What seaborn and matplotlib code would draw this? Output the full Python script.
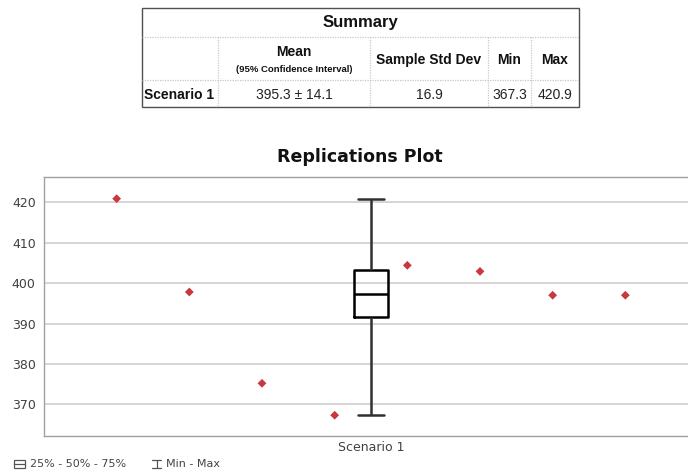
import matplotlib
matplotlib.use("Agg")
import matplotlib.pyplot as plt
from matplotlib.lines import Line2D
from matplotlib.patches import Rectangle
import seaborn as sns
import pandas as pd

# Replication results for one scenario
replications = [1, 2, 3, 4, 5, 6, 7, 8]
values = [420.9, 397.8, 375.2, 367.3, 404.4, 402.9, 397.0, 397.0]
scenario = "Scenario 1"
y_ticks = [370, 380, 390, 400, 410, 420]

# Summary table contents
summary_title = "Summary"
summary_headers = ["Mean", "Sample Std Dev", "Min", "Max"]
mean_note = "(95% Confidence Interval)"
summary_row = ["395.3 ± 14.1", "16.9", "367.3", "420.9"]

W, H = 688, 473
sns.set_theme(style="white")
plt.rcParams["font.family"] = ["DejaVu Sans"]

fig = plt.figure(figsize=(W / 100, H / 100), dpi=100)


def fx(x):
    return x / W


def fy(y):
    return 1 - y / H


# ---- summary table ----
tbl_font = ["Liberation Sans", "DejaVu Sans"]
left, right = 142, 579
top, r1, r2, bottom = 8, 37, 80, 107
cols = [142, 218, 370, 488, 531, 579]

dot = dict(color="#c8c8c8", lw=0.9, ls=(0, (1, 1)), transform=fig.transFigure)
for y in (r1, r2):
    fig.add_artist(Line2D([fx(left), fx(right)], [fy(y), fy(y)], **dot))
for x in cols[1:-1]:
    fig.add_artist(Line2D([fx(x), fx(x)], [fy(r1), fy(bottom)], **dot))
fig.add_artist(Rectangle((fx(left), fy(bottom)), fx(right - left), (bottom - top) / H,
                         fill=False, edgecolor="#505050", lw=1.0,
                         transform=fig.transFigure))

fig.text(fx((left + right) / 2), fy(23), summary_title, ha="center", va="center",
         fontsize=12, fontweight="bold", family=tbl_font, color="#111111")
centers = [(cols[i] + cols[i + 1]) / 2 for i in range(1, 5)]
fig.text(fx(centers[0]), fy(52), summary_headers[0], ha="center", va="center",
         fontsize=10, fontweight="bold", family=tbl_font, color="#111111")
fig.text(fx(centers[0]), fy(69.5), mean_note, ha="center", va="center",
         fontsize=6.8, fontweight="bold", family=tbl_font, color="#111111")
for c, h in zip(centers[1:], summary_headers[1:]):
    fig.text(fx(c), fy(60), h, ha="center", va="center",
             fontsize=10, fontweight="bold", family=tbl_font, color="#111111")
fig.text(fx(144), fy(95), scenario, ha="left", va="center",
         fontsize=10, fontweight="bold", family=tbl_font, color="#111111")
for c, v in zip(centers, summary_row):
    fig.text(fx(c), fy(95), v, ha="center", va="center",
             fontsize=10, family=tbl_font, color="#222222")

# ---- replications plot ----
ax_left, ax_right, ax_top, ax_bottom = 44, 698, 176.7, 435.7
ax = fig.add_axes([fx(ax_left), fy(ax_bottom), (ax_right - ax_left) / W,
                   (ax_bottom - ax_top) / H])

df = pd.DataFrame({"rep": replications, "value": values})
box_pos = (replications[0] - 1 + replications[-1] + 1) / 2
df["pos"] = box_pos

sns.boxplot(data=df, x="pos", y="value", native_scale=True, width=0.47,
            whis=(0, 100), fill=False, color="black", linewidth=1.8,
            capwidths=0.36, whiskerprops={"color": "#303030"},
            capprops={"color": "#303030"}, ax=ax)
sns.scatterplot(data=df, x="rep", y="value", marker="D", s=20,
                color="#c8393d", edgecolor="none", ax=ax, zorder=5)

ax.set_xlim(replications[0] - 1, replications[-1] + 1)
ax.set_ylim(362.23, 426.34)
ax.set_yticks(y_ticks)
ax.set_xticks([box_pos])
ax.set_xticklabels([scenario])
ax.set_xlabel("")
ax.set_ylabel("")
ax.yaxis.grid(True, color="#d2d2d2", linewidth=1.3)
ax.xaxis.grid(False)
ax.set_axisbelow(True)
ax.tick_params(axis="both", length=0, labelsize=9, colors="#404040")
ax.tick_params(axis="y", pad=6)
ax.tick_params(axis="x", pad=4)
for side in ("left", "bottom", "top"):
    ax.spines[side].set_color("#a0a0a0")
    ax.spines[side].set_linewidth(1.0)
ax.spines["right"].set_visible(False)

fig.text(fx(360), fy(157), "Replications Plot", ha="center", va="center",
         fontsize=12.5, fontweight="bold", color="#111111")

# ---- legend ----
lg = dict(color="#555555", lw=0.9, transform=fig.transFigure)
fig.add_artist(Rectangle((fx(13.5), fy(467.5)), fx(11), 8 / H, fill=False,
                         edgecolor="#555555", lw=0.9, transform=fig.transFigure))
fig.add_artist(Line2D([fx(13.5), fx(24.5)], [fy(463.5), fy(463.5)], **lg))
fig.text(fx(30), fy(464), "25% - 50% - 75%", ha="left", va="center",
         fontsize=8, color="#444444")
fig.add_artist(Line2D([fx(156.5), fx(156.5)], [fy(459.5), fy(468)], **lg))
fig.add_artist(Line2D([fx(152), fx(161)], [fy(459.5), fy(459.5)], **lg))
fig.add_artist(Line2D([fx(152), fx(161)], [fy(468), fy(468)], **lg))
fig.text(fx(165.5), fy(464), "Min - Max", ha="left", va="center",
         fontsize=8, color="#444444")

fig.savefig("out.png", dpi=100)
